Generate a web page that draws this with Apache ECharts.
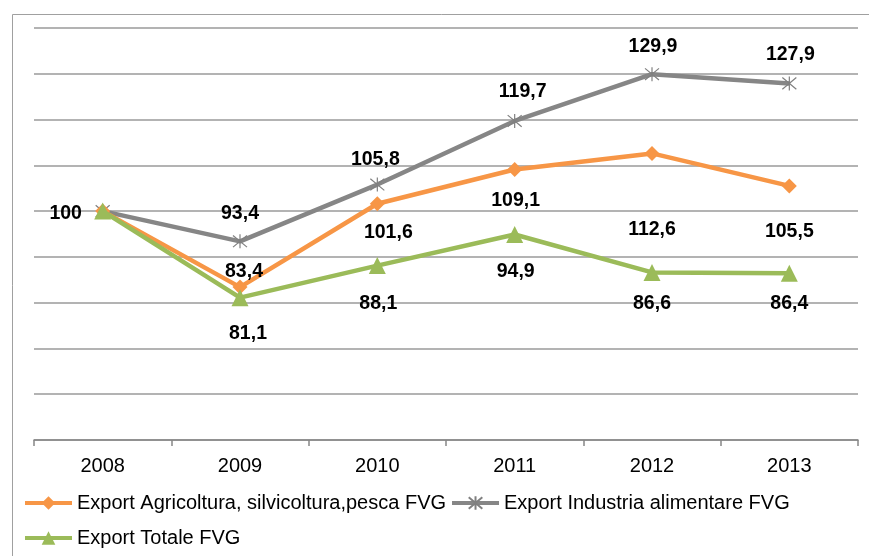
<!DOCTYPE html>
<html>
<head>
<meta charset="utf-8">
<script src="https://cdn.jsdelivr.net/npm/echarts@6/dist/echarts.min.js"></script>
<style>
  html, body { margin: 0; padding: 0; background: #fff; }
  #chart { width: 869px; height: 556px; }
</style>
</head>
<body>
<div id="chart"></div>
<script>
let years = ['2008', '2009', '2010', '2011', '2012', '2013']
let agricoltura = [100, 83.4, 101.6, 109.1, 112.6, 105.5]
let alimentare = [100, 93.4, 105.8, 119.7, 129.9, 127.9]
let totale = [100, 81.1, 88.1, 94.9, 86.6, 86.4]
let nameAgri = 'Export Agricoltura, silvicoltura,pesca FVG'
let nameAlim = 'Export Industria alimentare FVG'
let nameTot = 'Export Totale FVG'

// label placement (px offsets from each point), like the hand-moved excel labels
let offAgri = [null, [4, -15], [11, 29], [1, 31], [0, 76], [0, 46]]
let offAlim = [null, [0, -28], [-2, -25], [8, -29], [1, -28], [1, -29]]
let offTot = [[-37, 3], [8, 36], [1, 38], [1, 37], [0, 31], [0, 30]]

const FONT = '"Liberation Sans", Arial, sans-serif'
const starPath = 'path://M0,0L10,10M10,0L0,10M5,-1L5,11'

function buildData (values, offsets) {
  return values.map(function (v, i) {
    let o = offsets[i]
    if (!o) return { value: v, label: { show: false } }
    return { value: v, label: { show: true, position: 'inside', offset: o } }
  })
}

let labelStyle = {
  color: '#000',
  fontFamily: FONT,
  fontWeight: 'bold',
  fontSize: 19.5,
  formatter: function (p) { return String(p.value).replace('.', ',') }
}

let legendText = { fontFamily: FONT, fontSize: 20, color: '#000' }

let chart = echarts.init(document.getElementById('chart'))
let option = {
  animation: false,
  backgroundColor: '#fff',
  graphic: [{
    type: 'rect',
    left: 10, top: 12,
    shape: { width: 900, height: 600 },
    style: { fill: 'none', stroke: '#a0a0a0', lineWidth: 1 },
    silent: true
  }],
  grid: { left: 34, right: 11, top: 28, bottom: 116 },
  legend: [{
    left: 18, top: 488,
    itemWidth: 47, itemHeight: 17, itemGap: 4,
    textStyle: legendText,
    data: [
      { name: nameAgri, lineStyle: { width: 4 } },
      { name: nameAlim, lineStyle: { width: 4 } }
    ]
  }, {
    left: 18, top: 523,
    itemWidth: 47, itemHeight: 17,
    textStyle: legendText,
    data: [{ name: nameTot, lineStyle: { width: 4 } }]
  }],
  xAxis: {
    type: 'category',
    data: years,
    boundaryGap: true,
    axisLine: { lineStyle: { color: '#868686', width: 1.5 } },
    axisTick: { show: true, length: 6, lineStyle: { color: '#868686', width: 1.5 } },
    axisLabel: { color: '#000', fontFamily: FONT, fontSize: 20, margin: 16 }
  },
  yAxis: {
    type: 'value',
    min: 50, max: 140, interval: 10,
    axisLine: { show: false },
    axisTick: { show: false },
    axisLabel: { show: false },
    splitLine: { lineStyle: { color: '#9a9a9a', width: 1.5 } }
  },
  series: [{
    name: nameAgri,
    type: 'line',
    data: buildData(agricoltura, offAgri),
    symbol: 'diamond',
    symbolSize: 15,
    lineStyle: { color: '#f79646', width: 4.5 },
    itemStyle: { color: '#f79646' },
    label: labelStyle,
    z: 3
  }, {
    name: nameAlim,
    type: 'line',
    data: buildData(alimentare, offAlim),
    symbol: starPath,
    symbolSize: 14,
    lineStyle: { color: '#868686', width: 4.5 },
    itemStyle: { color: 'none', borderColor: '#808080', borderWidth: 1.2 },
    label: labelStyle,
    z: 2
  }, {
    name: nameTot,
    type: 'line',
    data: buildData(totale, offTot),
    symbol: 'triangle',
    symbolSize: 17,
    lineStyle: { color: '#9bbb59', width: 4.5 },
    itemStyle: { color: '#9bbb59' },
    label: labelStyle,
    z: 4
  }]
}
chart.setOption(option)
</script>
</body>
</html>
